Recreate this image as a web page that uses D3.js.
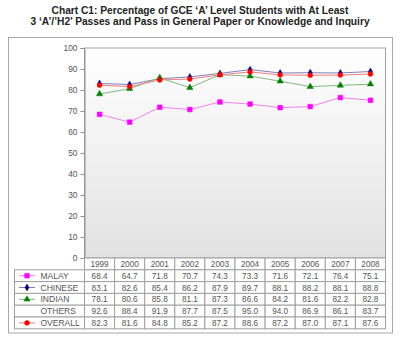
<!DOCTYPE html>
<html><head><meta charset="utf-8">
<script src="https://cdn.jsdelivr.net/npm/d3@7"></script>
<style>
html,body{margin:0;padding:0;background:#fff;}
svg{display:block;font-family:Arial,"Liberation Sans",sans-serif;}
</style></head>
<body><svg id="c" width="400" height="340"></svg>
<script>
const years = ["1999","2000","2001","2002","2003","2004","2005","2006","2007","2008"];
const seriesNames = ["MALAY","CHINESE","INDIAN","OTHERS","OVERALL"];
const malay   = [68.4,64.7,71.8,70.7,74.3,73.3,71.6,72.1,76.4,75.1];
const chinese = [83.1,82.6,85.4,86.2,87.9,89.7,88.1,88.2,88.1,88.8];
const indian  = [78.1,80.6,85.8,81.1,87.3,86.6,84.2,81.6,82.2,82.8];
const others  = [92.6,88.4,91.9,87.7,87.5,95.0,94.0,86.9,86.1,83.7];
const overall = [82.3,81.6,84.8,85.2,87.2,88.6,87.2,87.0,87.1,87.6];
const yTicks = [0,10,20,30,40,50,60,70,80,90,100];
const titleLines = ["Chart C1: Percentage of GCE \u2018A\u2019 Level Students with At Least",
                    "3 \u2018A\u2019/\u2019H2\u2019 Passes and Pass in General Paper or Knowledge and Inquiry"];

const seriesValues = [malay, chinese, indian, others, overall];
const style = {
  MALAY:   {line:"#f080f0", mark:"#ff00ff", sym:d3.symbolSquare,   size:22, show:true},
  CHINESE: {line:"#8080b8", mark:"#000080", sym:d3.symbolDiamond,  size:14, show:true},
  INDIAN:  {line:"#80b880", mark:"#008000", sym:d3.symbolTriangle, size:17, show:true},
  OTHERS:  {line:"none",    mark:"none",    sym:null,              size:0,  show:false},
  OVERALL: {line:"#f08080", mark:"#ff0000", sym:d3.symbolCircle,   size:19, show:true}
};

const svg = d3.select("#c");
const L = 84.5, R = 385.5, T = 48, B = 258;
const rowH = 11.8;

// outer frame
svg.append("rect").attr("x",8.5).attr("y",37.5).attr("width",384).attr("height",295.5)
  .attr("fill","none").attr("stroke","#a8a8a8").attr("stroke-width",1);

// title
svg.append("g").selectAll("text").data(titleLines).join("text")
  .attr("x",200).attr("y",(d,i)=>13.5+i*11.5).attr("text-anchor","middle")
  .attr("font-size","10.2px").attr("font-weight","bold").attr("fill","#222").text(d=>d);

// gradient
const defs = svg.append("defs");
const g = defs.append("linearGradient").attr("id","bg").attr("x1",0).attr("y1",0).attr("x2",0).attr("y2",1);
g.append("stop").attr("offset","0%").attr("stop-color","#ffffff");
g.append("stop").attr("offset","100%").attr("stop-color","#e2e2e2");

svg.append("rect").attr("x",L).attr("y",T).attr("width",R-L).attr("height",B-T)
  .attr("fill","url(#bg)").attr("stroke","#a0a0a0").attr("stroke-width",1);

const x = d3.scaleBand().domain(years).range([L,R]);
const y = d3.scaleLinear().domain([0,100]).range([B,T]);

// y axis
const ya = svg.append("g").attr("transform",`translate(${L},0)`)
  .call(d3.axisLeft(y).tickValues(yTicks).tickSize(4).tickPadding(3));
ya.select(".domain").attr("stroke","#909090");
ya.selectAll(".tick line").attr("stroke","#909090");
ya.selectAll(".tick text").attr("font-size","8.4px").attr("fill","#555").attr("font-family","Arial,'Liberation Sans',sans-serif");

// lines and markers
seriesNames.forEach((name,si)=>{
  const st = style[name];
  if(!st.show) return;
  const vals = seriesValues[si];
  const line = d3.line().x((d,i)=>x(years[i])+x.bandwidth()/2).y(d=>y(d));
  svg.append("path").datum(vals).attr("d",line).attr("fill","none")
    .attr("stroke",st.line).attr("stroke-width",1);
  svg.append("g").selectAll("path").data(vals).join("path")
    .attr("d",d3.symbol().type(st.sym).size(st.size))
    .attr("transform",(d,i)=>`translate(${x(years[i])+x.bandwidth()/2},${y(d)})`)
    .attr("fill",st.mark).attr("stroke",st.mark).attr("stroke-width",0.5);
});

// table
const tb = svg.append("g");
const lineC = "#a0a0a0";
const LL = 14.5;
years.forEach((yr,i)=>{
  tb.append("rect").attr("x",x(yr)).attr("y",B).attr("width",x.bandwidth()).attr("height",rowH)
    .attr("fill","#fff").attr("stroke",lineC);
  tb.append("text").attr("x",x(yr)+x.bandwidth()/2).attr("y",B+rowH/2+3)
    .attr("text-anchor","middle").attr("font-size","8.2px").attr("fill","#555").text(yr);
});
seriesNames.forEach((name,si)=>{
  const ry = B + rowH*(si+1);
  const st = style[name];
  tb.append("rect").attr("x",LL).attr("y",ry).attr("width",L-LL).attr("height",rowH)
    .attr("fill","#fff").attr("stroke",lineC);
  if(st.show){
    tb.append("line").attr("x1",19).attr("x2",35).attr("y1",ry+rowH/2).attr("y2",ry+rowH/2)
      .attr("stroke",st.line).attr("stroke-width",1);
    tb.append("path").attr("d",d3.symbol().type(st.sym).size(st.size)())
      .attr("transform",`translate(27,${ry+rowH/2})`).attr("fill",st.mark).attr("stroke",st.mark).attr("stroke-width",0.5);
  }
  tb.append("text").attr("x",40.5).attr("y",ry+rowH/2+3).attr("font-size","8.5px").attr("fill","#555").text(name);
  seriesValues[si].forEach((v,i)=>{
    tb.append("rect").attr("x",x(years[i])).attr("y",ry).attr("width",x.bandwidth()).attr("height",rowH)
      .attr("fill","#fff").attr("stroke",lineC);
    tb.append("text").attr("x",x(years[i])+x.bandwidth()/2).attr("y",ry+rowH/2+3)
      .attr("text-anchor","middle").attr("font-size","8.2px").attr("fill","#555").text(v.toFixed(1));
  });
});
</script></body></html>
